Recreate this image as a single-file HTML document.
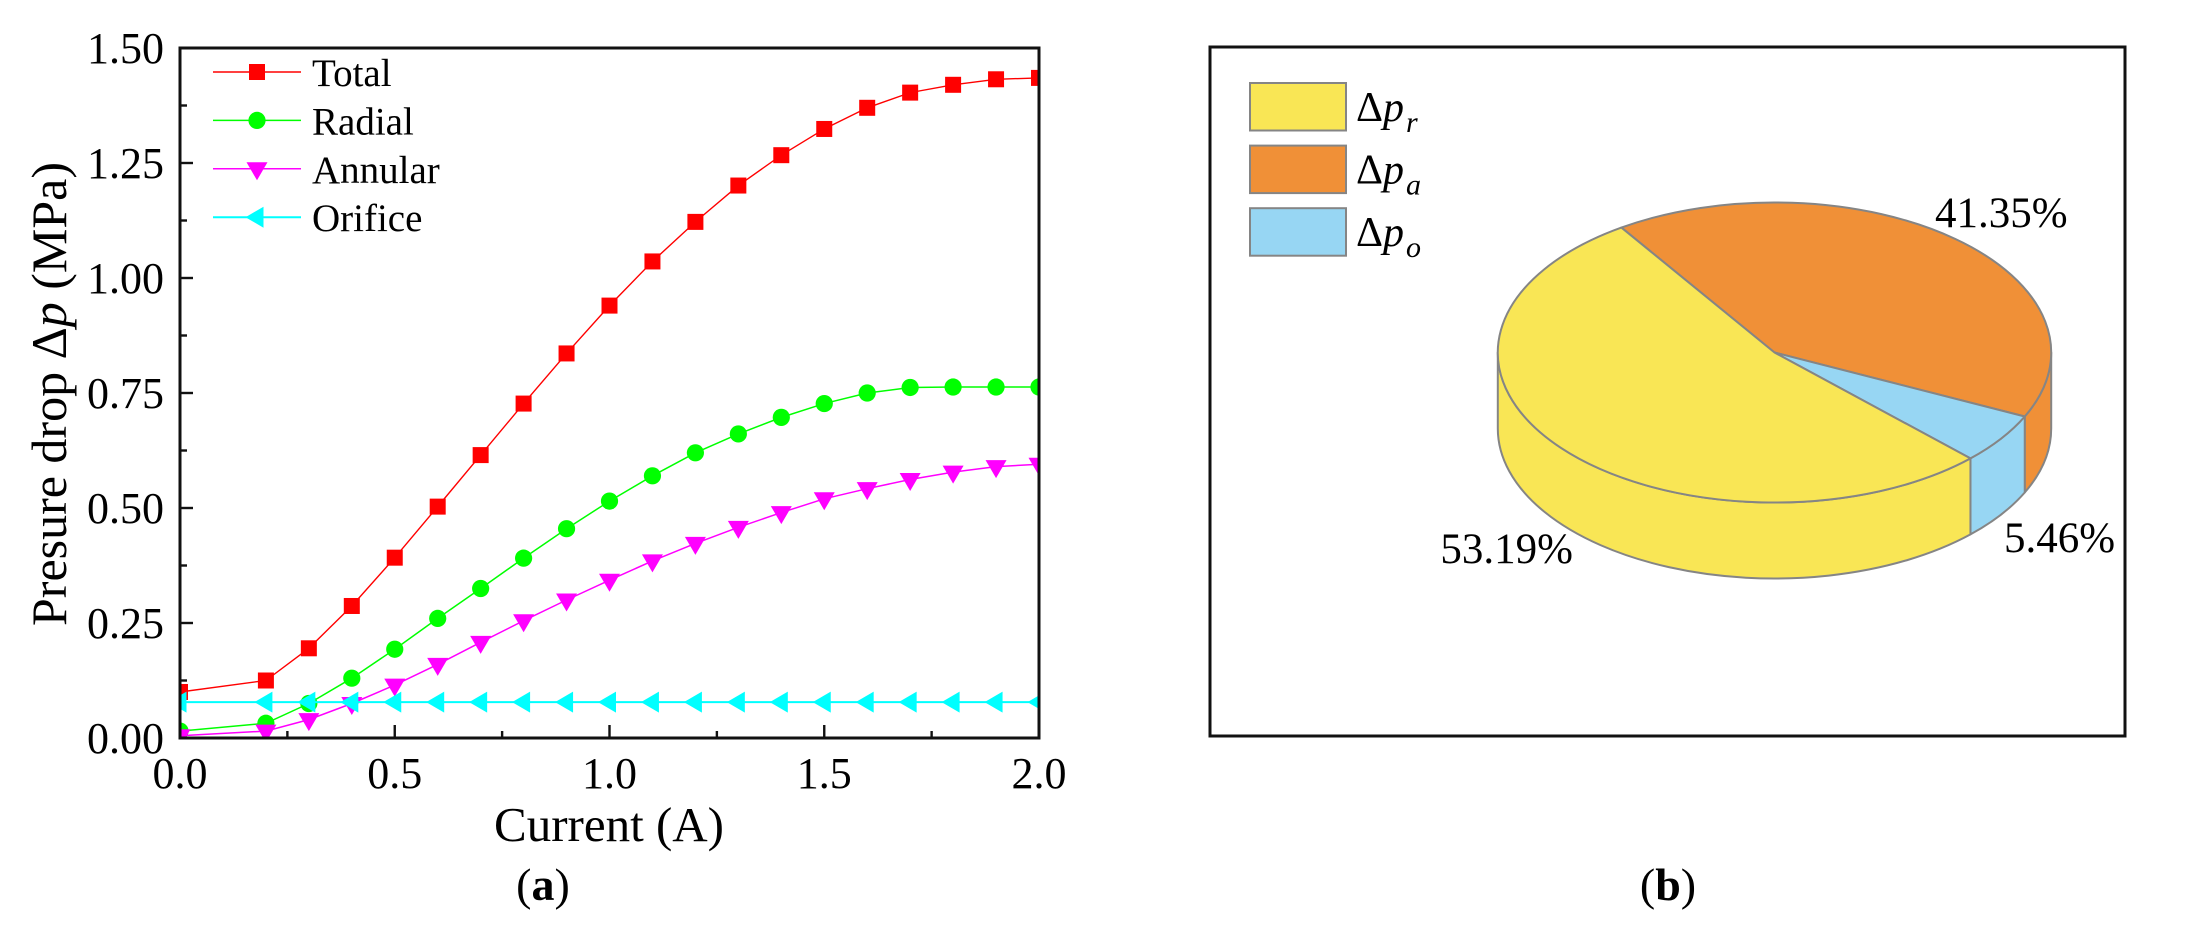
<!DOCTYPE html>
<html lang="en">
<head>
<meta charset="utf-8">
<title>Pressure drop chart and pie</title>
<style>
html,body{margin:0;padding:0;background:#fff;}
svg{display:block;}
text{font-family:"Liberation Serif",serif;fill:#000;}
</style>
</head>
<body>
<svg id="figure" xmlns="http://www.w3.org/2000/svg" width="2204" height="944" viewBox="0 0 2204 944">
  <defs><clipPath id="plot-clip"><rect x="180" y="48" width="859" height="690"/></clipPath></defs>
  <rect width="2204" height="944" fill="#fff"/>
  <g id="line-panel"></g>
  <g id="pie-panel"></g>
  <text x="543" y="900" font-size="46" text-anchor="middle">(<tspan font-weight="bold">a</tspan>)</text>
  <text x="1668" y="900" font-size="46" text-anchor="middle">(<tspan font-weight="bold">b</tspan>)</text>
</svg>
<script>
const currents = [0, 0.2, 0.3, 0.4, 0.5, 0.6, 0.7, 0.8, 0.9, 1.0, 1.1, 1.2, 1.3, 1.4, 1.5, 1.6, 1.7, 1.8, 1.9, 2.0];
const totalValues = [0.100, 0.125, 0.195, 0.287, 0.392, 0.503, 0.615, 0.727, 0.836, 0.940, 1.036, 1.122, 1.201, 1.267, 1.324, 1.370, 1.403, 1.420, 1.432, 1.435];
const radialValues = [0.015, 0.032, 0.075, 0.130, 0.193, 0.260, 0.325, 0.391, 0.455, 0.515, 0.570, 0.620, 0.661, 0.697, 0.727, 0.750, 0.762, 0.763, 0.763, 0.763];
const annularValues = [0.005, 0.015, 0.040, 0.075, 0.115, 0.160, 0.208, 0.255, 0.300, 0.343, 0.385, 0.423, 0.458, 0.490, 0.520, 0.542, 0.562, 0.578, 0.590, 0.595];
const orificeValues = [0.078, 0.078, 0.078, 0.078, 0.078, 0.078, 0.078, 0.078, 0.078, 0.078, 0.078, 0.078, 0.078, 0.078, 0.078, 0.078, 0.078, 0.078, 0.078, 0.078];
const xTickLabels = ["0.0", "0.5", "1.0", "1.5", "2.0"];
const yTickLabels = ["0.00", "0.25", "0.50", "0.75", "1.00", "1.25", "1.50"];
const seriesNames = ["Total", "Radial", "Annular", "Orifice"];
const pieNames = ["annular", "orifice", "radial"];
const pieValues = [41.35, 5.46, 53.19];

const NS = "http://www.w3.org/2000/svg";
const linePanel = document.getElementById("line-panel");
const piePanel = document.getElementById("pie-panel");

function make(tag, attrs, parent, text) {
  const el = document.createElementNS(NS, tag);
  for (const k in attrs) el.setAttribute(k, attrs[k]);
  if (text !== undefined) el.textContent = text;
  parent.appendChild(el);
  return el;
}

/* ---------- line chart ---------- */
const plotLeft = 180, plotRight = 1039, plotTop = 48, plotBottom = 738;
function xScale(v) { return plotLeft + (v / 2) * (plotRight - plotLeft); }
function yScale(v) { return plotBottom - (v / 1.5) * (plotBottom - plotTop); }

function drawMarker(kind, x, y, color, parent) {
  let m;
  if (kind === "square") {
    m = make("rect", { x: x - 8, y: y - 8, width: 16, height: 16, fill: color }, parent);
  } else if (kind === "circle") {
    m = make("circle", { cx: x, cy: y, r: 8.6, fill: color }, parent);
  } else if (kind === "down") {
    m = make("polygon", { points: [x - 10.5, y - 6.5, x + 10.5, y - 6.5, x, y + 11.5].join(" "), fill: color }, parent);
  } else {
    m = make("polygon", { points: [x - 11.5, y, x + 6.5, y - 10.5, x + 6.5, y + 10.5].join(" "), fill: color }, parent);
  }
  return m;
}

const seriesStyles = [
  { values: totalValues, color: "#ff0000", kind: "square", width: 1.4 },
  { values: radialValues, color: "#00ff00", kind: "circle", width: 1.5 },
  { values: annularValues, color: "#ff00ff", kind: "down", width: 1.5 },
  { values: orificeValues, color: "#00ffff", kind: "left", width: 2 }
];

const plotGroup = make("g", { "clip-path": "url(#plot-clip)" }, linePanel);



seriesStyles.forEach(function (s, i) {
  const g = make("g", {}, plotGroup);
  
  
  const pts = currents.map(function (c, j) { return xScale(c) + "," + yScale(s.values[j]); }).join(" ");
  const line = make("polyline", { points: pts, fill: "none", stroke: s.color, "stroke-width": s.width }, g);
  
  
  currents.forEach(function (c, j) {
    const m = drawMarker(s.kind, xScale(c), yScale(s.values[j]), s.color, g);
    
    
  });
});

const frame = make("rect", { x: plotLeft, y: plotTop, width: plotRight - plotLeft, height: plotBottom - plotTop, fill: "none", stroke: "#111", "stroke-width": 3 }, linePanel);



yTickLabels.forEach(function (label, i) {
  const v = parseFloat(label);
  const y = yScale(v);
  const t = make("line", { x1: plotLeft, x2: plotLeft + 13, y1: y, y2: y, stroke: "#111", "stroke-width": 2.4 }, linePanel);
  
  
  if (i < yTickLabels.length - 1) {
    const ym = yScale(v + 0.125);
    const tm = make("line", { x1: plotLeft, x2: plotLeft + 7, y1: ym, y2: ym, stroke: "#111", "stroke-width": 2.4 }, linePanel);
    
    
  }
  const lab = make("text", { x: 164, y: y + 15, "font-size": 44, "text-anchor": "end" }, linePanel, label);
  
  
});

xTickLabels.forEach(function (label, i) {
  const v = parseFloat(label);
  const x = xScale(v);
  const t = make("line", { x1: x, x2: x, y1: plotBottom, y2: plotBottom - 13, stroke: "#111", "stroke-width": 2.4 }, linePanel);
  
  
  if (i < xTickLabels.length - 1) {
    const xm = xScale(v + 0.25);
    const tm = make("line", { x1: xm, x2: xm, y1: plotBottom, y2: plotBottom - 7, stroke: "#111", "stroke-width": 2.4 }, linePanel);
    
    
  }
  const lab = make("text", { x: x, y: 788, "font-size": 44, "text-anchor": "middle" }, linePanel, label);
  
  
});

const xTitle = make("text", { x: 609, y: 841, "font-size": 49, "text-anchor": "middle" }, linePanel, "Current (A)");



const yTitle = make("text", { x: 0, y: 0, "font-size": 50, "text-anchor": "middle", transform: "translate(66 394) rotate(-90)" }, linePanel);


make("tspan", {}, yTitle, "Presure drop \u0394");
make("tspan", { "font-style": "italic" }, yTitle, "p");
make("tspan", {}, yTitle, " (MPa)");

seriesStyles.forEach(function (s, i) {
  const y = 72 + i * 48.4;
  const g = make("g", {}, linePanel);
  
  
  make("line", { x1: 213, x2: 301, y1: y, y2: y, stroke: s.color, "stroke-width": s.width }, g);
  drawMarker(s.kind, 257, y, s.color, g);
  make("text", { x: 312, y: y + 14, "font-size": 39 }, g, seriesNames[i]);
});

/* ---------- pie chart ---------- */
const panelFrame = make("rect", { x: 1210, y: 47, width: 915, height: 689, fill: "none", stroke: "#111", "stroke-width": 3 }, piePanel);



const pieCx = 1774.5, pieCy = 352.5, pieRx = 276.7, pieRy = 150, pieDepth = 76;
const pieStartDeg = 123.6;
const pieColors = ["#F09037", "#97D6F3", "#F9E655"];
const pieEdge = "#858585";

function ellipseX(deg) { return pieCx + pieRx * Math.cos(deg * Math.PI / 180); }
function ellipseY(deg, drop) { return pieCy - pieRy * Math.sin(deg * Math.PI / 180) + drop; }

const pieTotal = pieValues.reduce(function (a, b) { return a + b; }, 0);
const pieSlices = [];
let pieAngle = pieStartDeg;
pieValues.forEach(function (v, i) {
  const sweep = v / pieTotal * 360;
  pieSlices.push({ start: pieAngle, end: pieAngle - sweep, color: pieColors[i], name: pieNames[i] });
  pieAngle -= sweep;
});

function wallPath(a, b) {
  const large = Math.abs(a - b) > 180 ? 1 : 0;
  return "M" + ellipseX(a) + " " + ellipseY(a, 0) +
    " A" + pieRx + " " + pieRy + " 0 " + large + " 1 " + ellipseX(b) + " " + ellipseY(b, 0) +
    " L" + ellipseX(b) + " " + ellipseY(b, pieDepth) +
    " A" + pieRx + " " + pieRy + " 0 " + large + " 0 " + ellipseX(a) + " " + ellipseY(a, pieDepth) + " Z";
}

/* walls exist only on the front half of the ellipse: -180deg to 0deg */
pieSlices.forEach(function (s) {
  [0, 360, -360].forEach(function (shift) {
    const a = Math.min(s.start + shift, 0);
    const b = Math.max(s.end + shift, -180);
    if (a > b) {
      const w = make("path", { d: wallPath(a, b), fill: s.color, stroke: pieEdge, "stroke-width": 2, "stroke-linejoin": "round" }, piePanel);
      
      
    }
  });
});

pieSlices.forEach(function (s) {
  const large = Math.abs(s.start - s.end) > 180 ? 1 : 0;
  const d = "M" + pieCx + " " + pieCy +
    " L" + ellipseX(s.start) + " " + ellipseY(s.start, 0) +
    " A" + pieRx + " " + pieRy + " 0 " + large + " 1 " + ellipseX(s.end) + " " + ellipseY(s.end, 0) + " Z";
  const p = make("path", { d: d, fill: s.color, stroke: pieEdge, "stroke-width": 2, "stroke-linejoin": "round" }, piePanel);
  
  
});

const pieLabelAnchors = [
  { x: 1935, y: 227, anchor: "start" },
  { x: 2004, y: 552, anchor: "start" },
  { x: 1573, y: 563, anchor: "end" }
];
pieValues.forEach(function (v, i) {
  const a = pieLabelAnchors[i];
  const t = make("text", { x: a.x, y: a.y, "font-size": 43, "text-anchor": a.anchor }, piePanel, v.toFixed(2) + "%");
  
  
});

const pieLegendOrder = [2, 0, 1];
const pieLegendSubs = ["r", "a", "o"];
pieLegendOrder.forEach(function (idx, i) {
  const top = 83 + i * 62.6;
  const g = make("g", {}, piePanel);
  
  
  make("rect", { x: 1250, y: top, width: 96, height: 47.5, fill: pieColors[idx], stroke: pieEdge, "stroke-width": 2 }, g);
  const t = make("text", { x: 1356, y: top + 38, "font-size": 42 }, g, "\u0394");
  make("tspan", { "font-style": "italic" }, t, "p");
  make("text", { x: 1406, y: top + 49, "font-size": 30, "font-style": "italic" }, g, pieLegendSubs[i]);
});
</script>
</body>
</html>
